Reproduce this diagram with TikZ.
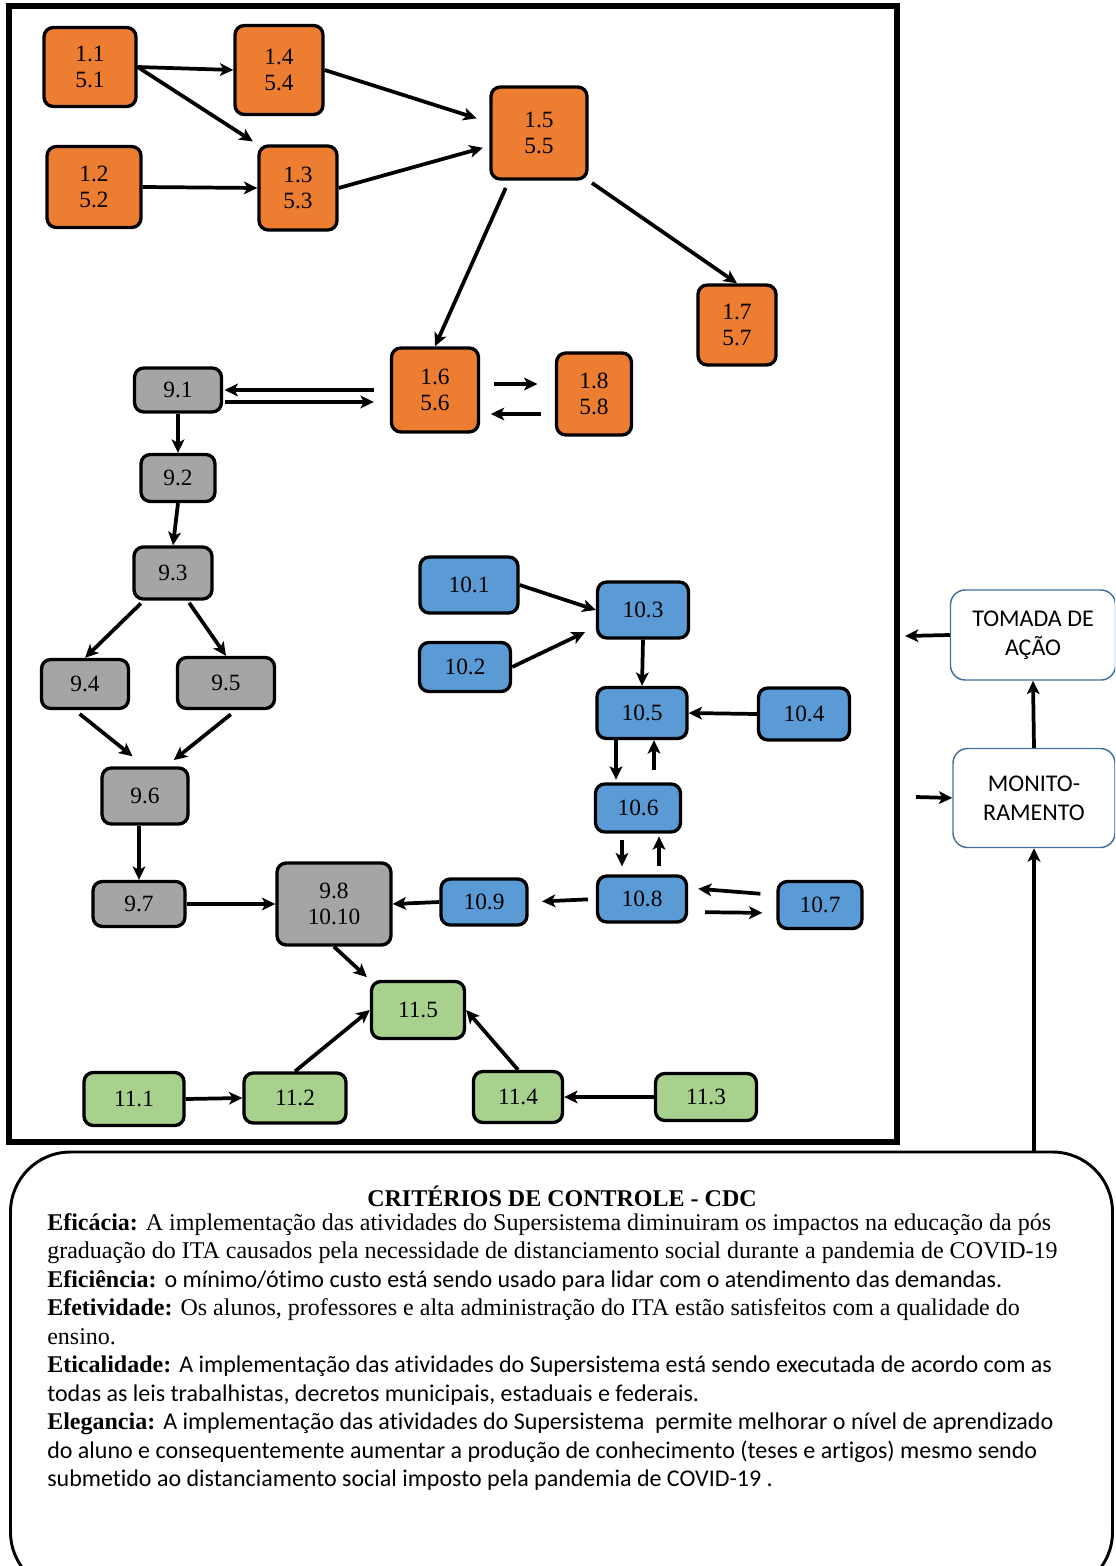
\documentclass[tikz,border=0pt]{standalone}
\usepackage{fontspec}
\setmainfont{Liberation Serif}
\newfontfamily\calfont[Ligatures=NoCommon]{Carlito}
\usetikzlibrary{arrows.meta}
\definecolor{tangerine}{HTML}{ED7D31}
\definecolor{slate}{HTML}{A5A5A5}
\definecolor{sky}{HTML}{5B9BD5}
\definecolor{sage}{HTML}{A9D18E}
\definecolor{steel}{HTML}{41719C}
\tikzset{
  >={Stealth[length=10pt,width=9.5pt,inset=2.5pt]},
  box/.style={draw=black,fill=#1,line width=2.5pt,rounded corners=7pt,inner sep=0pt,
    align=center,font=\fontsize{17.5}{20}\selectfont},
  box/.default=slate,
  wh/.style 2 args={minimum width=#1*0.75pt,minimum height=#2*0.75pt},
  flow/.style={->,line width=2.8pt},
  ctrl/.style={draw=steel,fill=white,line width=1.1pt,rounded corners=11pt,align=center,
    font=\calfont\fontsize{18}{22}\selectfont},
  crit/.style={font=\fontsize{18}{21.4}\selectfont,align=left,inner sep=0pt},
}

\begin{document}
\begin{tikzpicture}[x=0.75pt,y=-0.75pt]
  \useasboundingbox (0,0) rectangle (1115,1566);
  \clip (0,0) rectangle (1115,1566);
  % frame
  \draw[line width=4.5pt] (8.5,6.5) rectangle (897,1142);
  % activities 1 / 5
  \node[box=tangerine,wh={92}{79}] (n11) at (90,67) {1.1\\5.1};
  \node[box=tangerine,wh={88}{89}] (n14) at (279,70) {1.4\\5.4};
  \node[box=tangerine,wh={96}{92}] (n15) at (539,133) {1.5\\5.5};
  \node[box=tangerine,wh={94}{81}] (n12) at (94,187) {1.2\\5.2};
  \node[box=tangerine,wh={78}{84}] (n13) at (298,188) {1.3\\5.3};
  \node[box=tangerine,wh={78}{80}] (n17) at (737,325) {1.7\\5.7};
  \node[box=tangerine,wh={87}{84}] (n16) at (435,390) {1.6\\5.6};
  \node[box=tangerine,wh={75}{82}] (n18) at (594,394) {1.8\\5.8};
  % activities 9
  \node[box,wh={87}{44}] (n91) at (178,390) {9.1};
  \node[box,wh={74}{47}] (n92) at (178,478) {9.2};
  \node[box,wh={78}{52}] (n93) at (173,573) {9.3};
  \node[box,wh={87}{49}] (n94) at (85,684) {9.4};
  \node[box,wh={97}{51}] (n95) at (226,683) {9.5};
  \node[box,wh={86}{56}] (n96) at (145,796) {9.6};
  \node[box,wh={92}{45}] (n97) at (139,904) {9.7};
  \node[box,wh={114}{82}] (n98) at (334,904) {9.8\\10.10};
  % activities 10
  \node[box=sky,wh={98}{56}] (n101) at (469,585) {10.1};
  \node[box=sky,wh={91}{56}] (n103) at (643,610) {10.3};
  \node[box=sky,wh={91}{49}] (n102) at (465,667) {10.2};
  \node[box=sky,wh={90}{51}] (n105) at (642,713) {10.5};
  \node[box=sky,wh={91}{52}] (n104) at (804,714) {10.4};
  \node[box=sky,wh={85}{48}] (n106) at (638,808) {10.6};
  \node[box=sky,wh={89}{46}] (n108) at (642,899) {10.8};
  \node[box=sky,wh={84}{47}] (n107) at (820,905) {10.7};
  \node[box=sky,wh={86}{46}] (n109) at (484,902) {10.9};
  % activities 11
  \node[box=sage,wh={93}{57}] (n115) at (418,1010) {11.5};
  \node[box=sage,wh={100}{53}] (n111) at (134,1099) {11.1};
  \node[box=sage,wh={102}{50}] (n112) at (295,1098) {11.2};
  \node[box=sage,wh={89}{51}] (n114) at (518,1097) {11.4};
  \node[box=sage,wh={101}{47}] (n113) at (706,1097) {11.3};
  % flows 1 / 5
  \draw[flow] (n11.east) -- (n14.west);
  \draw[flow,shorten >=4pt] (n11.east) -- (n13.north west);
  \draw[flow] (n12.east) -- (n13.west);
  \draw[flow,shorten >=10pt] (n14.east) -- ([yshift=8pt]n15.west);
  \draw[flow,shorten >=5pt] (n13.east) -- ([yshift=-9.75pt]n15.west);
  \draw[flow,shorten <=3pt] (n15.south east) -- (n17.north);
  \draw[flow,shorten <=6pt] ([xshift=-22.5pt]n15.south) -- (n16.north);
  \draw[flow,shorten <=10pt,shorten >=13pt] ([yshift=4.5pt]n16.east) -- ([yshift=7.5pt]n18.west);
  \draw[flow,shorten <=10.5pt,shorten >=8pt] ([yshift=-15pt]n18.west) -- ([yshift=-18pt]n16.east);
  \draw[flow,shorten <=12pt,shorten >=1pt] (n16.west) -- (n91.east);
  \draw[flow,shorten <=1pt,shorten >=12pt] ([yshift=-9pt]n91.east) -- ([yshift=-9pt]n16.west);
  % flows 9
  \draw[flow] (n91.south) -- (n92.north);
  \draw[flow] (n92.south) -- (n93.north);
  \draw[flow,shorten <=3pt] ([xshift=-22pt]n93.south) -- (n94.north);
  \draw[flow,shorten <=2pt] ([xshift=11pt]n93.south) -- (n95.north);
  \draw[flow,shorten <=4.5pt,shorten >=12pt] ([xshift=-7.5pt]n94.south) -- (n96.north);
  \draw[flow,shorten <=5pt,shorten >=7.5pt] ([xshift=7.5pt]n95.south) -- ([xshift=15.75pt]n96.north);
  \draw[flow] ([xshift=-4.5pt]n96.south) -- (n97.north);
  \draw[flow] (n97.east) -- (n98.west);
  \draw[flow] (n109.west) -- (n98.east);
  % flows 10
  \draw[flow] (n101.east) -- (n103.west);
  \draw[flow,shorten >=9pt] (n102.east) -- ([yshift=-12.75pt]n103.west);
  \draw[flow] (n103.south) -- (n105.north);
  \draw[flow] (n104.west) -- (n105.east);
  \draw[flow,shorten >=2pt] ([xshift=-19.5pt]n105.south) -- ([xshift=-16.5pt]n106.north);
  \draw[flow,shorten <=9pt] ([xshift=12pt]n106.north) -- ([xshift=9pt]n105.south);
  \draw[flow,shorten <=4.5pt,shorten >=6pt] ([xshift=-12pt]n106.south) -- ([xshift=-15pt]n108.north);
  \draw[flow,shorten <=6pt,shorten >=2pt] ([xshift=12.75pt]n108.north) -- ([xshift=15.75pt]n106.south);
  \draw[flow,shorten <=12pt,shorten >=7.5pt] ([yshift=7.5pt]n107.west) -- ([yshift=8.25pt]n108.east);
  \draw[flow,shorten <=12.75pt,shorten >=10.5pt] ([yshift=-9.75pt]n108.east) -- ([yshift=-6pt]n107.west);
  \draw[flow,shorten <=6pt,shorten >=10pt] (n108.west) -- (n109.east);
  % flows 11
  \draw[flow,shorten >=3pt] (n98.south) -- (n115.north west);
  \draw[flow] (n112.north) -- (n115.west);
  \draw[flow] (n114.north) -- (n115.east);
  \draw[flow] (n111.east) -- (n112.west);
  \draw[flow] (n113.west) -- (n114.east);
  % control loop
  \node[ctrl,wh={165}{90}] (tom) at (1033,635) {TOMADA DE\\AÇÃO};
  \node[ctrl,wh={162}{99}] (mon) at (1034,798) {MONITO-\\RAMENTO};
  \coordinate (tomout) at (905,636);
  \coordinate (monin) at (916,797);
  \draw[flow] (tom.west) -- (tomout);
  \draw[flow] (mon.north) -- (tom.south);
  \draw[flow] (monin) -- (mon.west);
  % criteria
  \node[draw,line width=2.2pt,rounded corners=45pt,minimum width=1102*0.75pt,
    minimum height=440*0.75pt] (cdc) at (561.5,1372) {};
  \draw[flow] (cdc.north -| mon.south) -- (mon.south);
  \node[font=\bfseries\fontsize{18}{20}\selectfont] (cdct) at (562,1196) {CRITÉRIOS DE CONTROLE - CDC};
  \node[crit,anchor=north west] (cdcx) at (47,1213) {%
    \textbf{Eficácia:} A implementação das atividades do Supersistema diminuiram os impactos na educação da pós\\
    graduação do ITA causados pela necessidade de distanciamento social durante a pandemia de COVID-19\\
    \textbf{Eficiência:} \calfont o mínimo/ótimo custo está sendo usado para lidar com o atendimento das demandas.\\
    \textbf{Efetividade:} Os alunos, professores e alta administração do ITA estão satisfeitos com a qualidade do\\
    ensino.\\
    \textbf{Eticalidade:} \calfont A implementação das atividades do Supersistema está sendo executada de acordo com as\\
    \calfont todas as leis trabalhistas, decretos municipais, estaduais e federais.\\
    \textbf{Elegancia:} \calfont A implementação das atividades do Supersistema\ \ permite melhorar o nível de aprendizado\\
    \calfont do aluno e consequentemente aumentar a produção de conhecimento (teses e artigos) mesmo sendo\\
    \calfont submetido ao distanciamento social imposto pela pandemia de COVID-19 .};
\end{tikzpicture}
\end{document}
